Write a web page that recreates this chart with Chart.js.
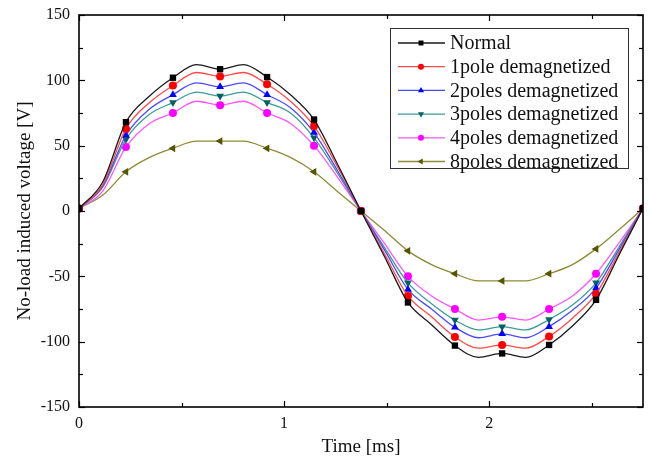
<!DOCTYPE html>
<html>
<head>
<meta charset="utf-8">
<script src="https://cdn.jsdelivr.net/npm/chart.js@4"></script>
<style>
  html, body { margin: 0; padding: 0; background: #fff; }
  #wrap { width: 649px; height: 466px; }
</style>
</head>
<body>
<div id="wrap"><canvas id="c" width="649" height="466"></canvas></div>
<script>
// time axis [ms]
const time = [0, 0.115, 0.229, 0.344, 0.458, 0.573, 0.688, 0.802, 0.917, 1.031, 1.146, 1.260,
  1.375, 1.490, 1.604, 1.719, 1.833, 1.948, 2.063, 2.177, 2.292, 2.406, 2.521, 2.635, 2.75];

// induced voltage [V]
const normal = [2, 22, 68, 88, 102, 112, 108.5, 112, 102.5, 89, 70, 36, 0,
  -35, -70, -87, -103, -112, -109, -112, -102.5, -88, -68, -33, 2];
const pole1 = [2, 20, 63, 83, 96, 106, 103, 106, 97, 84, 65, 34, 0,
  -33, -65, -81, -96.5, -105, -102.5, -105, -96, -82, -63.5, -31, 2];
const poles2 = [2, 19, 58, 78, 89, 98, 95, 98, 89, 79, 60, 31, 0,
  -30, -60, -75, -89, -97, -94, -97, -88.5, -76, -59, -29, 2];
const poles3 = [2, 18, 55, 74, 83, 91, 88, 91, 83, 75, 56, 29, 0,
  -28, -55, -71, -83.5, -91, -88.5, -91, -83, -72, -55, -27, 2];
const poles4 = [2, 15, 49, 67, 75, 84, 81, 84, 75, 67, 50, 26, 0,
  -25, -50, -65, -75, -83.5, -81, -83.5, -75, -65, -48, -24, 2];
const poles8 = [2, 12, 30, 41, 48, 53.5, 53.5, 53.5, 48, 41, 30, 15, 0,
  -15, -30.5, -41, -48, -53.5, -53.5, -53.5, -48, -41, -29, -14, 2];

const seriesNames = ['Normal', '1pole demagnetized', '2poles demagnetized',
  '3poles demagnetized', '4poles demagnetized', '8poles demagnetized'];
const seriesValues = [normal, pole1, poles2, poles3, poles4, poles8];

const xTicks = [0, 1, 2];
const yTicks = [-150, -100, -50, 0, 50, 100, 150];

// styles per series
const lineColors = ['#1a1a1a', '#ff4a4a', '#4a4aff', '#3b9b9b', '#ff55ff', '#8c8c35'];
const markColors = ['#000000', '#ff0000', '#0000ff', '#006262', '#ff00ff', '#555500'];
const markStyles = ['rect', 'circle', 'triangle', 'triangle', 'circle', 'triangle'];
const markRot = [0, 0, 0, 180, 0, 270];
const markRad = [4.5, 4, 4.5, 4.5, 4, 4.5];

const serif = '"Liberation Serif", "DejaVu Serif", serif';

const datasets = seriesValues.map((vals, i) => ({
    label: seriesNames[i],
    data: vals.map((v, j) => ({ x: time[j], y: v })),
    borderColor: lineColors[i],
    borderWidth: 1.3,
    backgroundColor: markColors[i],
    pointBackgroundColor: markColors[i],
    pointBorderColor: markColors[i],
    pointBorderWidth: 0,
    pointStyle: markStyles[i],
    pointRotation: markRot[i],
    // markers only on every second sample
    pointRadius: (ctx) => (ctx.dataIndex % 2 === 0 ? markRad[i] : 0),
    cubicInterpolationMode: 'monotone',
    fill: false,
}));

// frame, inward ticks and boxed legend
const framePlugin = {
    id: 'frame',
    afterDraw(chart) {
        const { ctx, chartArea: a, scales } = chart;
        const x = scales.x, y = scales.y;
        ctx.save();
        ctx.strokeStyle = '#000';
        ctx.lineWidth = 1.2;
        const seg = (x1, y1, x2, y2) => {
            ctx.beginPath(); ctx.moveTo(x1, y1); ctx.lineTo(x2, y2); ctx.stroke();
        };
        for (let v = 0; v <= 2.75; v += 0.5) {
            const px = Math.round(x.getPixelForValue(v)) + 0.5;
            const len = Number.isInteger(v) ? 6 : 4;
            seg(px, a.bottom, px, a.bottom - len);
            seg(px, a.top, px, a.top + len);
        }
        for (let v = -150; v <= 150; v += 25) {
            const py = Math.round(y.getPixelForValue(v)) + 0.5;
            const len = v % 50 === 0 ? 6 : 4;
            seg(a.left, py, a.left + len, py);
            seg(a.right, py, a.right - len, py);
        }
        ctx.lineWidth = 1.6;
        ctx.strokeRect(a.left, a.top, a.right - a.left, a.bottom - a.top);

        // legend
        const bx = a.right - 253, by = a.top + 13, bw = 238, bh = 140;
        ctx.fillStyle = '#fff';
        ctx.fillRect(bx, by, bw, bh);
        ctx.lineWidth = 1;
        ctx.strokeStyle = '#333';
        ctx.strokeRect(bx + 0.5, by + 0.5, bw, bh);
        ctx.font = '20px ' + serif;
        ctx.textBaseline = 'middle';
        ctx.textAlign = 'left';
        seriesNames.forEach((name, i) => {
            const ry = by + 15 + i * 23.7;
            ctx.strokeStyle = lineColors[i];
            ctx.lineWidth = 1.3;
            seg(bx + 8, ry, bx + 55, ry);
            ctx.fillStyle = markColors[i];
            ctx.strokeStyle = markColors[i];
            Chart.helpers.drawPoint(ctx, {
                pointStyle: markStyles[i], radius: markRad[i] - 1,
                rotation: markRot[i], borderWidth: 0,
            }, bx + 31, ry);
            ctx.fillStyle = '#111';
            ctx.fillText(name, bx + 60, ry + 1);
        });
        ctx.restore();
    },
};

new Chart(document.getElementById('c'), {
    type: 'line',
    data: { datasets },
    plugins: [framePlugin],
    options: {
        responsive: false,
        animation: false,
        layout: { padding: { top: 15, right: 6, left: 0, bottom: 0 } },
        plugins: {
            legend: { display: false },
            tooltip: { enabled: false },
        },
        scales: {
            x: {
                type: 'linear',
                min: 0,
                max: 2.75,
                afterBuildTicks: (s) => { s.ticks = xTicks.map((v) => ({ value: v })); },
                afterFit: (s) => { s.height = 59; s.paddingLeft = 0; s.paddingRight = 0; },
                grid: { display: false, drawTicks: false },
                border: { display: false },
                ticks: {
                    color: '#111',
                    padding: 7,
                    maxRotation: 0,
                    font: { family: serif, size: 16 },
                },
                title: {
                    display: true,
                    text: 'Time [ms]',
                    color: '#111',
                    padding: { top: 0, bottom: 8 },
                    font: { family: serif, size: 19 },
                },
            },
            y: {
                min: -150,
                max: 150,
                afterBuildTicks: (s) => { s.ticks = yTicks.map((v) => ({ value: v })); },
                afterFit: (s) => { s.width = 79; s.paddingTop = 0; s.paddingBottom = 0; },
                grid: { display: false, drawTicks: false },
                border: { display: false },
                ticks: {
                    color: '#111',
                    padding: 9,
                    font: { family: serif, size: 16 },
                },
                title: {
                    display: true,
                    text: 'No-load induced voltage [V]',
                    color: '#111',
                    padding: { top: 14, bottom: 0 },
                    font: { family: serif, size: 19 },
                },
            },
        },
    },
});
</script>
</body>
</html>
